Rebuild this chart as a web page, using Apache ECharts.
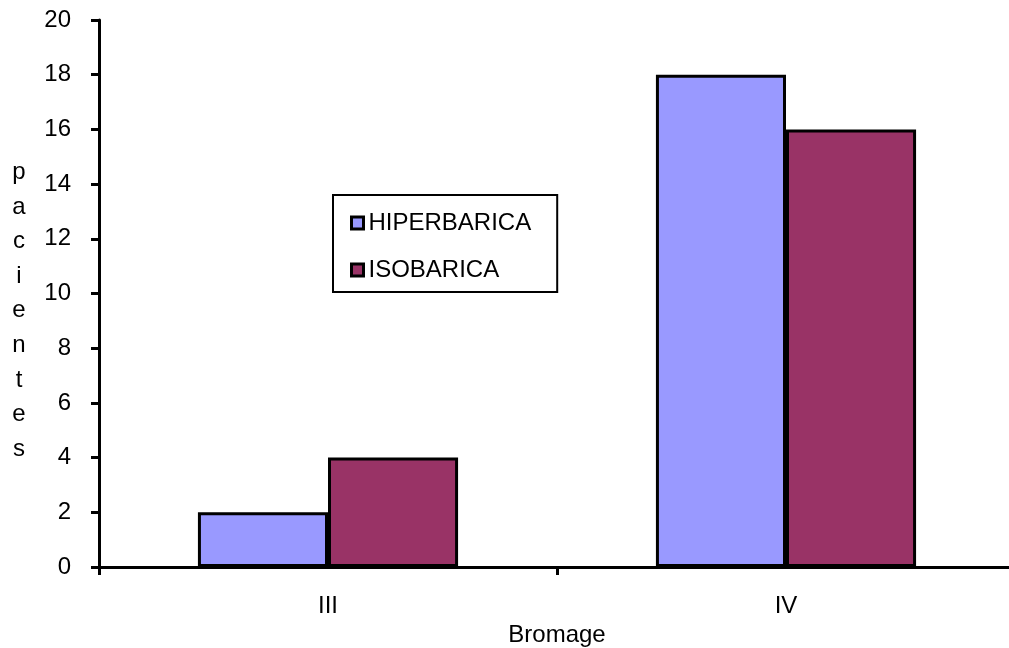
<!DOCTYPE html>
<html>
<head>
<meta charset="utf-8">
<script src="https://cdn.jsdelivr.net/npm/echarts@6/dist/echarts.min.js"></script>
<style>
  html, body { margin: 0; padding: 0; background: #fff; }
  #chart { width: 1009px; height: 648px; }
</style>
</head>
<body>
<div id="chart"></div>
<script>
// Bromage grade categories and patient counts per anaesthesia type
const categories = ['III', 'IV'];
const hiperbarica = [2, 18];
const isobarica = [4, 16];
const yTicks = { min: 0, max: 20, interval: 2 };
const seriesNames = ['HIPERBARICA', 'ISOBARICA'];
const yTitle = 'pacientes';
const xTitle = 'Bromage';

const font = 'Arial, "Liberation Sans", sans-serif';
const chart = echarts.init(document.getElementById('chart'), null, { renderer: 'canvas' });

const barStyle = (color) => ({
  color: color,
  borderColor: '#000',
  borderWidth: 3
});

chart.setOption({
  animation: false,
  backgroundColor: '#fff',
  grid: { left: 99, right: -6, top: 20, bottom: 81, containLabel: false, outerBoundsMode: 'none' },
  legend: {
    orient: 'vertical',
    left: 333,
    top: 195,
    data: seriesNames,
    itemWidth: 12,
    itemHeight: 12,
    itemGap: 23,
    padding: [16, 26, 10, 17],
    borderColor: '#000',
    borderWidth: 2,
    icon: 'rect',
    itemStyle: { borderColor: '#000', borderWidth: 3 },
    textStyle: { fontFamily: font, fontSize: 24, color: '#000', lineHeight: 24 }
  },
  xAxis: {
    type: 'category',
    data: categories,
    name: xTitle,
    nameLocation: 'middle',
    nameGap: 51,
    nameTextStyle: { fontFamily: font, fontSize: 24, color: '#000' },
    axisLine: { lineStyle: { color: '#000', width: 3 } },
    axisTick: { show: true, length: 8, lineStyle: { color: '#000', width: 3 } },
    axisLabel: { fontFamily: font, fontSize: 24, color: '#000', margin: 27 },
    splitLine: { show: false }
  },
  yAxis: {
    type: 'value',
    min: yTicks.min,
    max: yTicks.max,
    interval: yTicks.interval,
    axisLine: { show: true, lineStyle: { color: '#000', width: 3 } },
    axisTick: { show: true, length: 8, lineStyle: { color: '#000', width: 3 } },
    axisLabel: { fontFamily: font, fontSize: 24, color: '#000', margin: 28 },
    splitLine: { show: false }
  },
  graphic: [{
    type: 'text',
    x: 19,
    y: 155,
    style: {
      text: yTitle.split('').join('\n'),
      fontFamily: font,
      fontSize: 24,
      lineHeight: 34.6,
      fill: '#000',
      align: 'center',
      verticalAlign: 'top'
    }
  }],
  series: [
    {
      name: seriesNames[0],
      type: 'bar',
      data: hiperbarica,
      barWidth: '28.4%',
      barGap: '0%',
      itemStyle: barStyle('#9999FF')
    },
    {
      name: seriesNames[1],
      type: 'bar',
      data: isobarica,
      barWidth: '28.4%',
      barGap: '0%',
      itemStyle: barStyle('#993366')
    }
  ]
});
</script>
</body>
</html>
